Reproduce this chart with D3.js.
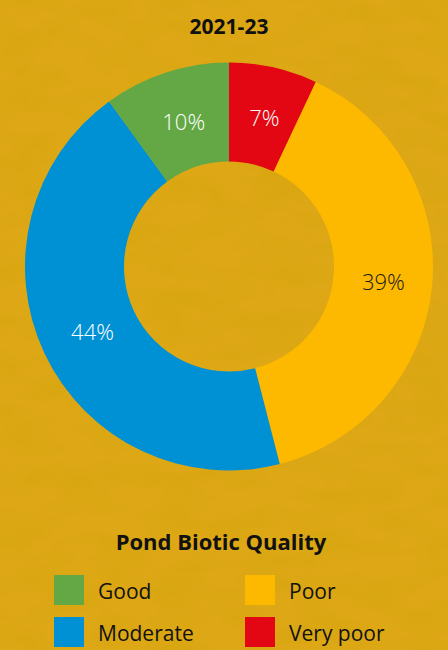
<!DOCTYPE html>
<html>
<head>
<meta charset="utf-8">
<script src="https://cdn.jsdelivr.net/npm/d3@7"></script>
<style>
  html, body { margin: 0; padding: 0; background: #dba514; }
  svg { display: block; }
  text { font-family: "Open Sans", "Noto Sans", sans-serif; }
</style>
</head>
<body>
<div id="chart"></div>
<script>
// Pond biotic quality shares, 2021-23 (percent), clockwise from 12 o'clock
const categories = ["Very poor", "Poor", "Moderate", "Good"];
const values = [7, 39, 44, 10];
const colors = ["#e30613", "#fdb900", "#0090d4", "#64a846"];
const labelColors = ["#ffffff", "#1a1a1a", "#ffffff", "#ffffff"];
const legendOrder = ["Good", "Poor", "Moderate", "Very poor"];
const chartTitle = "2021-23";
const legendTitle = "Pond Biotic Quality";

const W = 448, H = 650;
const cx = 229, cy = 266.5, outerR = 204, innerR = 105;

const svg = d3.select("#chart").append("svg")
  .attr("width", W).attr("height", H);

// mottled ochre backdrop
const defs = svg.append("defs");
const f = defs.append("filter").attr("id", "grain")
  .attr("x", 0).attr("y", 0).attr("width", "100%").attr("height", "100%");
f.append("feTurbulence").attr("type", "fractalNoise")
  .attr("baseFrequency", "0.02 0.045").attr("numOctaves", 3).attr("seed", 7).attr("result", "n");
f.append("feColorMatrix").attr("in", "n").attr("type", "matrix")
  .attr("values", "0 0 0 0 0.55  0 0 0 0 0.38  0 0 0 0 0.0  1.4 0 0 0 -0.62");

svg.append("rect").attr("width", W).attr("height", H).attr("fill", "#dda715");
svg.append("rect").attr("width", W).attr("height", H).attr("filter", "url(#grain)").attr("opacity", 0.35);

svg.append("text")
  .attr("x", 229).attr("y", 34)
  .attr("text-anchor", "middle")
  .attr("font-size", 21).attr("font-weight", 700).attr("fill", "#111")
  .text(chartTitle);

const data = categories.map((c, i) => ({ cat: c, value: values[i], color: colors[i], lc: labelColors[i] }));
const pie = d3.pie().sort(null).value(d => d.value);
const arc = d3.arc().innerRadius(innerR).outerRadius(outerR);
const labelArc = d3.arc().innerRadius(153).outerRadius(153);

const g = svg.append("g").attr("transform", `translate(${cx},${cy})`);
const arcs = pie(data);
g.selectAll("path").data(arcs).join("path")
  .attr("d", arc).attr("fill", d => d.data.color);

g.selectAll("text.lbl").data(arcs).join("text")
  .attr("class", "lbl")
  .attr("transform", d => {
    const [x, y] = labelArc.centroid(d);
    return `translate(${x + 2},${y + 1})`;
  })
  .attr("dy", "0.35em")
  .attr("text-anchor", "middle")
  .attr("font-size", 22).attr("font-weight", 300)
  .attr("fill", d => d.data.lc)
  .text(d => d.data.value + "%");

// legend
svg.append("text")
  .attr("x", 221).attr("y", 550)
  .attr("text-anchor", "middle")
  .attr("font-size", 22).attr("font-weight", 700).attr("fill", "#111")
  .text(legendTitle);

const colorOf = d3.scaleOrdinal().domain(categories).range(colors);
const lg = svg.append("g");
const items = lg.selectAll("g").data(legendOrder).join("g")
  .attr("transform", (d, i) => `translate(${54 + (i % 2) * 191},${575 + Math.floor(i / 2) * 42})`);
items.append("rect").attr("width", 30).attr("height", 30).attr("fill", d => colorOf(d));
items.append("text").attr("x", 44).attr("y", 17).attr("dy", "0.35em")
  .attr("font-size", 21).attr("fill", "#111").text(d => d);
</script>
</body>
</html>
